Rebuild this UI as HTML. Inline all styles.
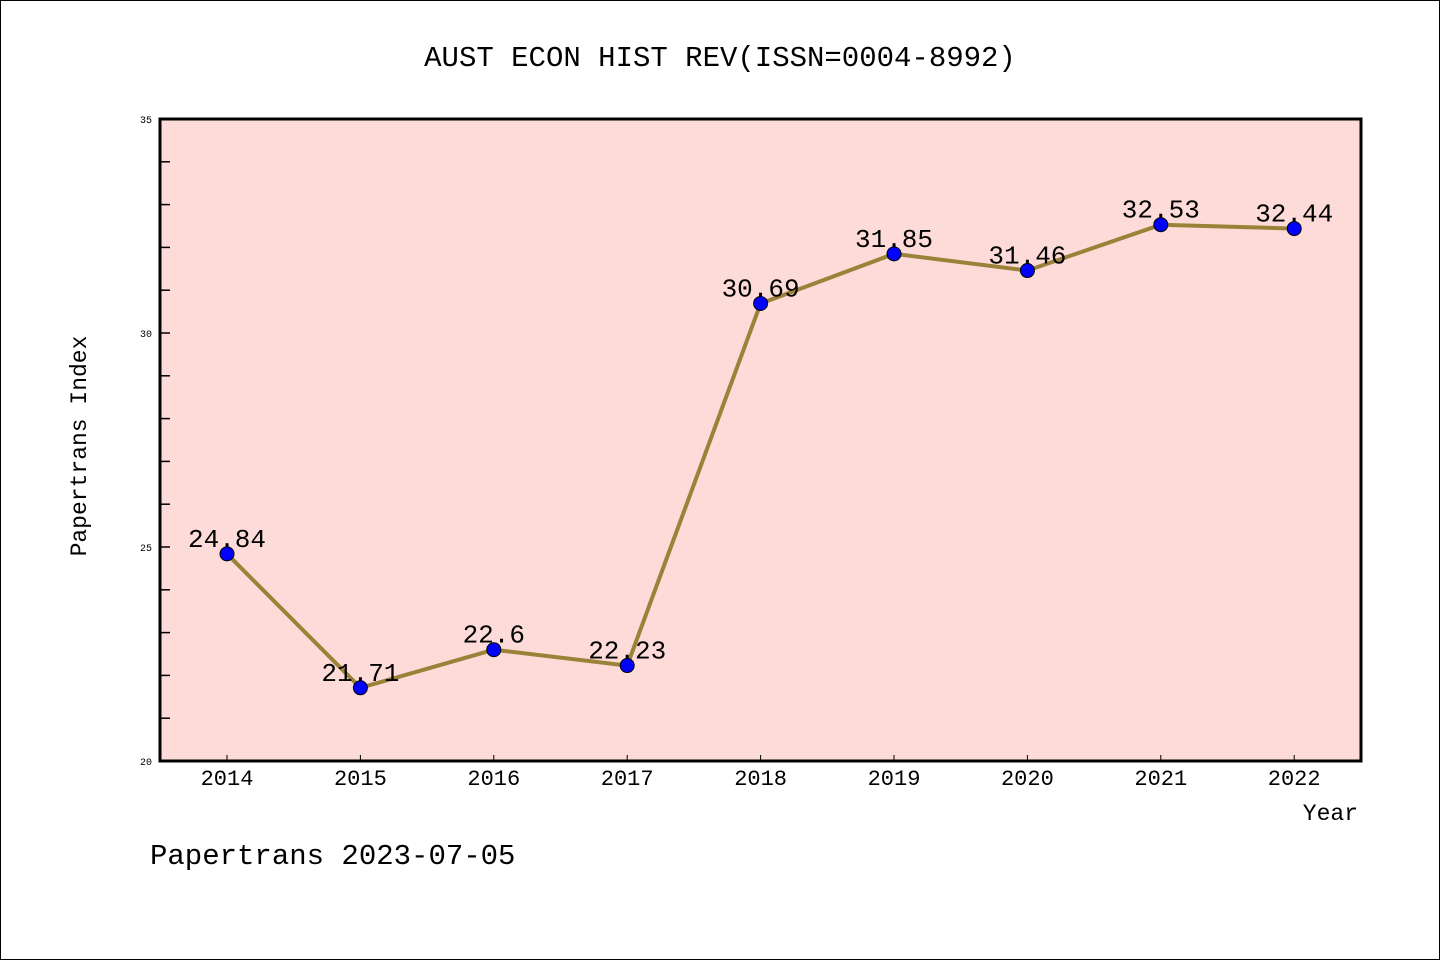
<!DOCTYPE html>
<html><head><meta charset="utf-8"><style>
html,body{margin:0;padding:0;background:#fff}
svg{display:block}
text{font-family:"Liberation Mono","DejaVu Sans Mono",monospace}
</style></head><body>
<svg id="chart" width="1440" height="960" xmlns="http://www.w3.org/2000/svg">
<rect x="0.5" y="0.5" width="1439" height="959" fill="#fff" stroke="#000" stroke-width="1"/>
<text x="720" y="66" text-anchor="middle" font-size="29">AUST ECON HIST REV(ISSN=0004-8992)</text>
<rect x="160" y="119" width="1201" height="642" fill="#fddbd8"/>
<g id="axes"></g>
<g id="series"></g>
<rect x="160" y="119" width="1201" height="642" fill="none" stroke="#000" stroke-width="3"/>
<text x="86" y="446" text-anchor="middle" font-size="23" transform="rotate(-90 86 446)">Papertrans Index</text>
<text x="1358" y="820" text-anchor="end" font-size="23">Year</text>
<text x="150" y="864" font-size="29">Papertrans 2023-07-05</text>
</svg>
<script>
const years=["2014","2015","2016","2017","2018","2019","2020","2021","2022"];
const values=[24.84,21.71,22.6,22.23,30.69,31.85,31.46,32.53,32.44];
const yTicks=[20,25,30,35];
const NS="http://www.w3.org/2000/svg";
const X0=227,XSTEP=133.4,Y0=761,YMIN=20,YMAX=35,PH=642;
function xs(i){return X0+i*XSTEP;}
function ys(v){return Y0-(v-YMIN)/(YMAX-YMIN)*PH;}
function mk(t,a,p){const e=document.createElementNS(NS,t);for(const k in a)e.setAttribute(k,a[k]);p.appendChild(e);return e;}
const ax=document.getElementById('axes'),se=document.getElementById('series');
for(let v=YMIN+1;v<YMAX;v++){
 const l=mk('line',{x1:160,x2:170,y1:ys(v),y2:ys(v),stroke:'#000','stroke-width':1.5},ax);
 
 
}
yTicks.forEach(v=>{
 const t=mk('text',{x:152,y:ys(v)+4,'text-anchor':'end','font-size':10},ax);t.textContent=v;
 
 
});
years.forEach((y,i)=>{
 const l=mk('line',{x1:xs(i),x2:xs(i),y1:761,y2:755,stroke:'#000','stroke-width':1},ax);
 
 
 const t=mk('text',{x:xs(i),y:785,'text-anchor':'middle','font-size':22},ax);t.textContent=y;
 
 
});
const pl=mk('polyline',{points:values.map((v,i)=>xs(i)+','+ys(v)).join(' '),fill:'none',stroke:'#9a8238','stroke-width':4},se);


values.forEach((v,i)=>{
 const c=mk('circle',{cx:xs(i),cy:ys(v),r:7,fill:'#0000ff',stroke:'#000','stroke-width':1},se);
 
 
 const t=mk('text',{x:xs(i),y:ys(v)-7,'text-anchor':'middle','font-size':26},se);t.textContent=v;
 
 
});
</script>
</body></html>
